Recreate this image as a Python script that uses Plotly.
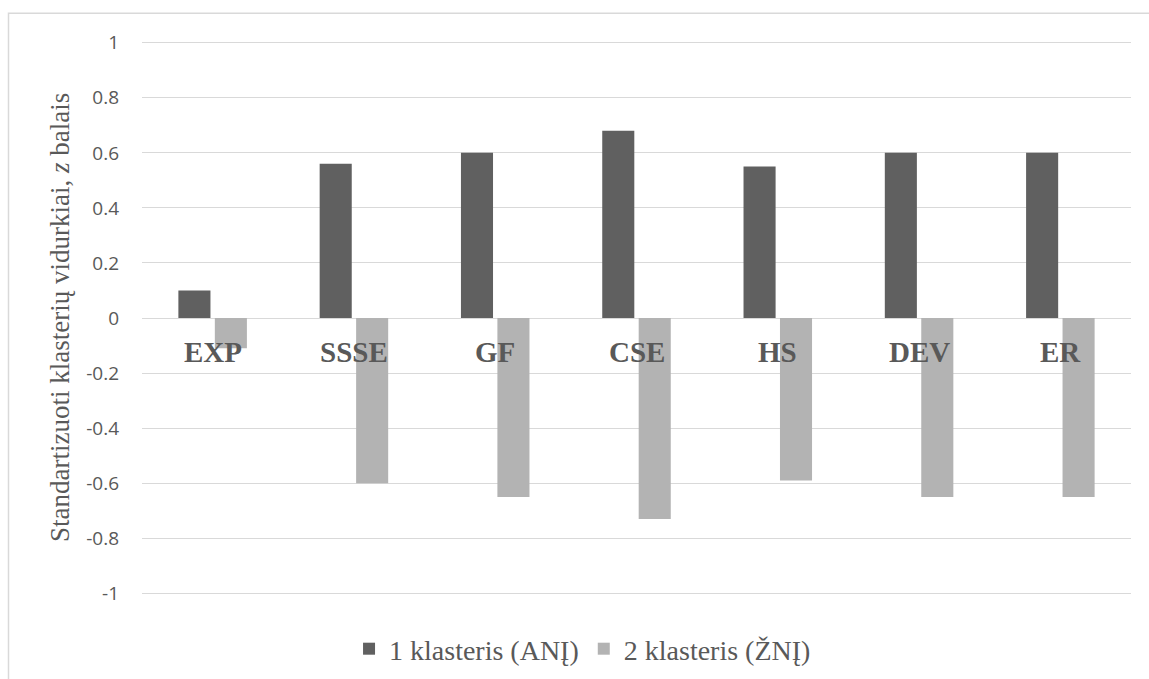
import plotly.graph_objects as go

categories = ["EXP", "SSSE", "GF", "CSE", "HS", "DEV", "ER"]
cluster1_name = "1 klasteris (ANĮ)"
cluster2_name = "2 klasteris (ŽNĮ)"
cluster1_values = [0.10, 0.56, 0.60, 0.68, 0.55, 0.60, 0.60]
cluster2_values = [-0.11, -0.60, -0.65, -0.73, -0.59, -0.65, -0.65]
tick_values = [1, 0.8, 0.6, 0.4, 0.2, 0, -0.2, -0.4, -0.6, -0.8, -1]
tick_labels = ["1", "0.8", "0.6", "0.4", "0.2", "0", "-0.2", "-0.4", "-0.6", "-0.8", "-1"]
y_title = "Standartizuoti klasterių vidurkiai, <i>z</i> balais"

W, H = 1149, 679
ML, MR = 142, W - 1131
y_lo, y_hi = -1.05, 1.05
px_per_unit = 275
MT = 43 - (y_hi - 1) * px_per_unit
MB = H - (593 + (-1 - y_lo) * px_per_unit)
plot_w = W - ML - MR
plot_h = H - MT - MB

def px_to_paper_x(px):
    return (px - ML) / plot_w

def px_to_paper_y(py):
    return (H - MB - py) / plot_h

dark = "#606060"
light = "#b3b3b3"
text_gray = "#595959"
serif = "Liberation Serif, Times New Roman, serif"

fig = go.Figure()
fig.add_trace(go.Bar(x=categories, y=cluster1_values, name=cluster1_name,
                     marker=dict(color=dark, line=dict(width=0))))
fig.add_trace(go.Bar(x=categories, y=cluster2_values, name=cluster2_name,
                     marker=dict(color=light, line=dict(width=0))))

annotations = []
for c in categories:
    annotations.append(dict(x=c, y=0, xref="x", yref="y", text=f"<b>{c}</b>",
                            showarrow=False, yanchor="middle", xanchor="center",
                            yshift=-34,
                            font=dict(family=serif, size=29, color=text_gray)))
annotations.append(dict(x=px_to_paper_x(60), y=0.5, xref="paper", yref="paper",
                        text=y_title, showarrow=False, textangle=-90,
                        xanchor="center", yanchor="middle",
                        font=dict(family=serif, size=27, color=text_gray)))

fig.update_layout(
    width=W, height=H,
    margin=dict(l=ML, r=MR, t=MT, b=MB, pad=0),
    paper_bgcolor="white", plot_bgcolor="white",
    barmode="group", bargap=0.484, bargroupgap=0.12,
    showlegend=True,
    legend=dict(orientation="h", xref="container", x=0.507, xanchor="center",
                yref="container", y=1 - 649 / H, yanchor="middle",
                font=dict(family=serif, size=28, color=text_gray),
                itemwidth=30, traceorder="normal"),
    annotations=annotations,
    shapes=[dict(type="rect", xref="paper", yref="paper",
                 x0=px_to_paper_x(8.5), x1=px_to_paper_x(W + 20),
                 y0=px_to_paper_y(H + 20), y1=px_to_paper_y(13.5),
                 line=dict(color="#d9d9d9", width=1.5), fillcolor="rgba(0,0,0,0)",
                 layer="below")],
    font=dict(family="Open Sans", color=text_gray),
)
fig.update_xaxes(showticklabels=False, showgrid=False, zeroline=False, showline=False,
                 ticks="")
fig.update_yaxes(range=[y_lo, y_hi], tickvals=tick_values, ticktext=tick_labels,
                 showgrid=True, gridcolor="#d9d9d9", gridwidth=1.3, zeroline=False,
                 showline=False, ticks="", ticklabelstandoff=22,
                 tickfont=dict(family="Open Sans", size=19, color=text_gray))

fig.write_html("out.html", config={"displayModeBar": False},
               post_script="document.body.style.margin='0';document.body.style.overflow='hidden';")
